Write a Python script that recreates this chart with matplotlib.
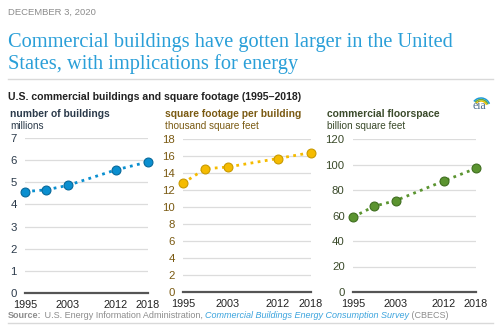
import matplotlib
matplotlib.use("Agg")
import matplotlib.pyplot as plt
from matplotlib.patches import Arc
from matplotlib.lines import Line2D

# survey years and values (CBECS)
years = [1995, 1999, 2003, 2012, 2018]
tick_years = [1995, 2003, 2012, 2018]
buildings = [4.58, 4.66, 4.86, 5.56, 5.92]       # millions
sqft_per_bldg = [12.8, 14.5, 14.7, 15.7, 16.4]   # thousand sq ft
floorspace = [58.8, 67.3, 71.7, 87.1, 97.0]      # billion sq ft

panel_titles = ["number of buildings", "square footage per building", "commercial floorspace"]
panel_units = ["millions", "thousand square feet", "billion square feet"]
y_ticks = [list(range(0, 8)), list(range(0, 19, 2)), list(range(0, 121, 20))]
series = [buildings, sqft_per_bldg, floorspace]

W, H = 500, 328
fig = plt.figure(figsize=(W / 100, H / 100), dpi=100)
fig.patch.set_facecolor("white")
plt.rcParams["font.family"] = ["Liberation Sans", "DejaVu Sans"]


def fx(x):
    return x / W


def fy(y):
    return 1 - y / H


# header
fig.text(fx(8), fy(12), "DECEMBER 3, 2020", fontsize=6.8, color="#8c8c8c", va="center")
fig.text(fx(8), fy(42), "Commercial buildings have gotten larger in the United",
         fontsize=14.7, color="#2a9fd8", family="Liberation Serif", va="center")
fig.text(fx(8), fy(64), "States, with implications for energy",
         fontsize=14.7, color="#2a9fd8", family="Liberation Serif", va="center")
fig.add_artist(Line2D([fx(8), fx(493)], [fy(79), fy(79)], color="#d9d9d9", lw=1))
fig.text(fx(8), fy(97), "U.S. commercial buildings and square footage (1995\u20132018)",
         fontsize=7.6, fontweight="bold", color="#222222", va="center")

# eia logo (approximation)
fig.text(fx(479), fy(106), "eia", fontsize=8.5, family="Liberation Serif",
         color="#4a6a8a", ha="center", va="center")
for c, r in [("#f2c200", 6), ("#6aaa3a", 7.5), ("#1f9bd7", 9)]:
    fig.add_artist(Arc((fx(481), fy(107)), 2 * r / W, 2 * r / H, theta1=30, theta2=130,
                       color=c, lw=1.1, transform=fig.transFigure))

colors = ["#0a8fd0", "#f5bb00", "#5b9430"]
edges = ["#07689a", "#c99a00", "#3f6e1f"]
text_colors = ["#2b3a4a", "#7a5a12", "#3a4a2a"]
# pixel boxes: left, right, top, bottom
boxes = [(25, 148, 138, 293), (183, 311, 139, 292), (353, 476, 139, 292)]
title_x = [10, 165, 327]

for i in range(3):
    l, r, t, b = boxes[i]
    ax = fig.add_axes([fx(l), fy(b), (r - l) / W, (b - t) / H])
    ax.set_xlim(1995, 2018)
    ax.set_ylim(0, y_ticks[i][-1])
    ax.set_yticks(y_ticks[i])
    ax.set_xticks(tick_years)
    ax.grid(axis="y", color="#dcdcdc", lw=0.9)
    ax.set_axisbelow(True)
    for s in ["top", "right", "left"]:
        ax.spines[s].set_visible(False)
    ax.spines["bottom"].set_color("#555555")
    ax.spines["bottom"].set_linewidth(1.6)
    ax.tick_params(length=0, labelsize=8.2, colors=text_colors[i], pad=6)
    ax.tick_params(axis="x", colors="#222222", labelsize=7.8, pad=5)
    ax.plot(years, series[i], ls=(0, (1, 1.6)), lw=2, color=colors[i],
            marker="o", ms=6.4, mfc=colors[i], mec=edges[i], mew=0.8, clip_on=False, zorder=3)
    fig.text(fx(title_x[i]), fy(114), panel_titles[i], fontsize=7.4, fontweight="bold",
             color=text_colors[i], va="center")
    fig.text(fx(title_x[i]), fy(126), panel_units[i], fontsize=7.2,
             color=text_colors[i], va="center")

# source line, built piece by piece
fig.canvas.draw()
renderer = fig.canvas.get_renderer()
pieces = [("Source:", "#8c8c8c", "bold", "normal"),
          (" U.S. Energy Information Administration, ", "#8c8c8c", "normal", "normal"),
          ("Commercial Buildings Energy Consumption Survey", "#3aa3dd", "normal", "italic"),
          (" (CBECS)", "#8c8c8c", "normal", "normal")]
x = 8
for txt, c, w, st in pieces:
    t = fig.text(fx(x), fy(316), txt, fontsize=6.5, color=c, fontweight=w, style=st, va="center")
    x += t.get_window_extent(renderer).width
fig.add_artist(Line2D([fx(8), fx(493)], [fy(323), fy(323)], color="#d9d9d9", lw=1))

fig.savefig("out.png", dpi=100, facecolor="white")
